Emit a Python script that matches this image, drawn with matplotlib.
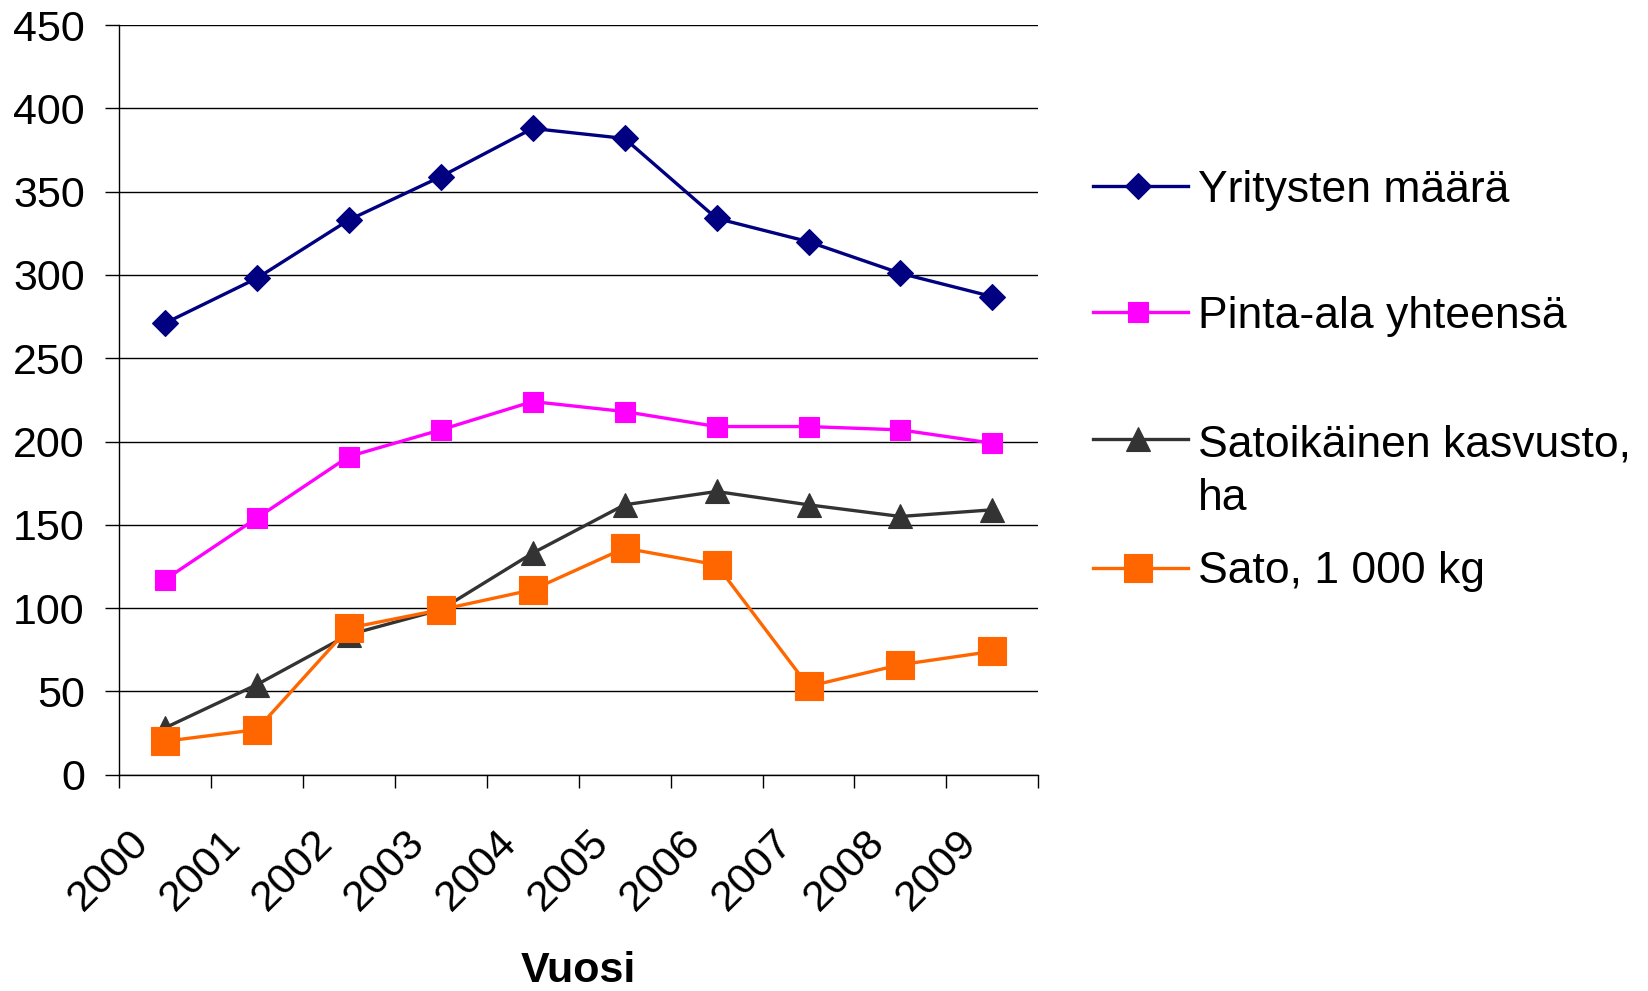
import matplotlib
matplotlib.use("Agg")
import matplotlib.pyplot as plt
from matplotlib.lines import Line2D
from matplotlib.ticker import FixedLocator, NullFormatter
from matplotlib.transforms import blended_transform_factory, ScaledTranslation
import numpy as np

plt.rcParams['font.family'] = ['Liberation Sans', 'DejaVu Sans']

years = ['2000', '2001', '2002', '2003', '2004', '2005', '2006', '2007', '2008', '2009']
yritysten = [271, 298, 333, 359, 388, 382, 334, 320, 301, 287]
pinta_ala = [117, 154, 191, 207, 224, 218, 209, 209, 207, 199]
satoikainen = [28, 54, 84, 99, 133, 162, 170, 162, 155, 159]
sato = [20, 27, 88, 99, 111, 136, 126, 53, 66, 74]

labels = ['Yritysten määrä', 'Pinta-ala yhteensä', 'Satoikäinen kasvusto,\nha', 'Sato, 1 000 kg']
colors = ['#000080', '#FF00FF', '#333333', '#FF6600']
markers = ['D', 's', '^', 's']
msizes = [13, 14.5, 17.5, 20.5]
series = [yritysten, pinta_ala, satoikainen, sato]

W, H = 1648, 991
fig = plt.figure(figsize=(W / 100, H / 100), dpi=100)
L, R, T, B = 118.8, 1038.4, 25.2, 774.6
ax = fig.add_axes([L / W, 1 - B / H, (R - L) / W, (B - T) / H])

x = np.arange(len(years))
for vals, c, m, ms in zip(series, colors, markers, msizes):
    ax.plot(x, vals, color=c, lw=2.4, marker=m, markersize=ms,
            markerfacecolor=c, markeredgecolor=c, markeredgewidth=0.8, zorder=3)

ax.set_xlim(-0.5, len(years) - 0.5)
ax.set_ylim(0, 450)
ax.set_yticks(np.arange(0, 451, 50))
ax.yaxis.grid(True, color='black', lw=1.0)
ax.set_axisbelow(True)
for s in ['top', 'right']:
    ax.spines[s].set_visible(False)
for s in ['left', 'bottom']:
    ax.spines[s].set_linewidth(1.0)
    ax.spines[s].set_color('black')

ax.xaxis.set_major_locator(FixedLocator(np.arange(-0.5, len(years), 1.0)))
ax.xaxis.set_major_formatter(NullFormatter())
ax.tick_params(axis='x', which='major', length=9.5, width=1.0, color='black')
ax.tick_params(axis='y', length=10, width=1.0, pad=14.5, labelsize=31)

# Category labels, rotated 45 degrees
trans = blended_transform_factory(ax.transData, ax.transAxes) + \
    ScaledTranslation(-22 / 100, -62 / 100, fig.dpi_scale_trans)
for i, yr in enumerate(years):
    ax.text(i, 0, yr, transform=trans, rotation=45, rotation_mode='anchor',
            ha='right', va='center', fontsize=31)

ax.set_xlabel('Vuosi', fontsize=31, fontweight='bold')
ax.xaxis.set_label_coords(0.5, 1 - (982 - T) / (B - T), transform=ax.transAxes)
ax.xaxis.label.set_va('baseline')

# Manual legend (in figure pixel coordinates)
handle_y = [186, 312, 439, 567.5]
base_y = [202, 328, 510, 583]
x0, x1, xm, xt = 1093, 1188, 1138, 1198
for c, m, ms, hy, by, lab in zip(colors, markers, msizes, handle_y, base_y, labels):
    fig.add_artist(Line2D([x0 / W, x1 / W], [1 - hy / H, 1 - hy / H], color=c, lw=2.4,
                          transform=fig.transFigure))
    fig.add_artist(Line2D([xm / W], [1 - hy / H], color=c, marker=m, markersize=ms,
                          markerfacecolor=c, markeredgecolor=c, markeredgewidth=0.8,
                          transform=fig.transFigure))
    fig.text(xt / W, 1 - by / H, lab, fontsize=32, ha='left', va='baseline',
             linespacing=1.4)

fig.savefig('out.png', dpi=100)
